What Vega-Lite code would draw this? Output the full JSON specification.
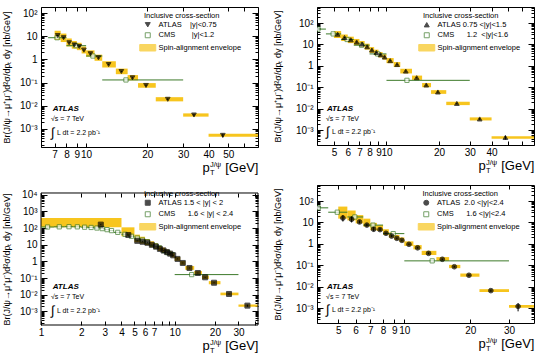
{
"$schema": "https://vega.github.io/schema/vega-lite/v6.json",
"background": "white",
"padding": {"left": 1, "top": 6, "right": 5, "bottom": 2},
"autosize": {"type": "pad"},
"config": {
  "font": "Liberation Sans",
  "view": {"stroke": "black", "strokeWidth": 1},
  "axis": {"domain": false, "grid": false, "tickColor": "black", "tickWidth": 1, "labelColor": "black", "titleColor": "black", "labelFont": "Liberation Sans", "titleFont": "Liberation Sans", "titleFontWeight": "normal"},
  "legend": {"titleFontSize": 7.5, "titleFontWeight": "normal", "titleColor": "black", "labelColor": "black", "labelFontSize": 7.5, "symbolSize": 25, "symbolStrokeWidth": 1, "padding": 0, "rowPadding": 1.5, "titlePadding": 2, "labelOffset": 7, "titleLimit": 0, "labelLimit": 0}
},
"datasets": {
  "p1a": [
    {"lo":7,"hi":7.5,"x":7.25,"y":10.7,"slo":10.1,"shi":11.3,"elo":6.8,"ehi":17},
    {"lo":7.5,"hi":8,"x":7.75,"y":8.6,"slo":8.1,"shi":9.1,"elo":5.6,"ehi":13},
    {"lo":8,"hi":8.5,"x":8.25,"y":5.2,"slo":4.9,"shi":5.5,"elo":3.6,"ehi":8},
    {"lo":8.5,"hi":9,"x":8.75,"y":4.2,"slo":4.0,"shi":4.4,"elo":2.9,"ehi":6.2},
    {"lo":9,"hi":9.5,"x":9.25,"y":3.6,"slo":3.4,"shi":3.8,"elo":2.5,"ehi":5.2},
    {"lo":9.5,"hi":10,"x":9.75,"y":2.5,"slo":2.37,"shi":2.63,"elo":1.8,"ehi":3.6},
    {"lo":10,"hi":11,"x":10.5,"y":1.75,"slo":1.67,"shi":1.83,"elo":1.3,"ehi":2.45},
    {"lo":11,"hi":12,"x":11.5,"y":1.17,"slo":1.11,"shi":1.23,"elo":0.87,"ehi":1.6},
    {"lo":12,"hi":14,"x":12.9,"y":0.6,"slo":0.57,"shi":0.63,"elo":0.45,"ehi":0.83},
    {"lo":14,"hi":16,"x":14.9,"y":0.3,"slo":0.285,"shi":0.315,"elo":0.23,"ehi":0.4},
    {"lo":16,"hi":18,"x":16.9,"y":0.16,"slo":0.151,"shi":0.169,"elo":0.125,"ehi":0.21},
    {"lo":18,"hi":22,"x":19.7,"y":0.075,"slo":0.07,"shi":0.08,"elo":0.06,"ehi":0.095},
    {"lo":22,"hi":30,"x":25.2,"y":0.019,"slo":0.0175,"shi":0.0205,"elo":0.0155,"ehi":0.0235},
    {"lo":30,"hi":40,"x":33.9,"y":0.004,"slo":0.0036,"shi":0.0044,"elo":0.0034,"ehi":0.0047},
    {"lo":40,"hi":70,"x":47,"y":0.00053,"slo":0.00044,"shi":0.00062,"elo":0.00046,"ehi":0.00062}
  ],
  "p1c": [
    {"lo":6.5,"hi":8,"x":7.2,"y":8.6},
    {"lo":8,"hi":10,"x":8.9,"y":3.9},
    {"lo":10,"hi":12,"x":10.8,"y":1.4},
    {"lo":12,"hi":30,"x":15.7,"y":0.13}
  ],
  "p2a": [
    {"lo":5,"hi":5.5,"x":5.25,"y":30,"slo":28.5,"shi":31.5,"elo":20,"ehi":42},
    {"lo":5.5,"hi":6,"x":5.75,"y":21,"slo":20,"shi":22,"elo":14.5,"ehi":29},
    {"lo":6,"hi":6.5,"x":6.25,"y":16.5,"slo":15.7,"shi":17.3,"elo":11.5,"ehi":23},
    {"lo":6.5,"hi":7,"x":6.75,"y":13,"slo":12.3,"shi":13.7,"elo":9.2,"ehi":18},
    {"lo":7,"hi":7.5,"x":7.25,"y":10.5,"slo":10,"shi":11,"elo":7.5,"ehi":14.5},
    {"lo":7.5,"hi":8,"x":7.75,"y":7.8,"slo":7.4,"shi":8.2,"elo":5.7,"ehi":10.8},
    {"lo":8,"hi":8.5,"x":8.25,"y":5.5,"slo":5.2,"shi":5.8,"elo":4.0,"ehi":7.5},
    {"lo":8.5,"hi":9,"x":8.75,"y":4.2,"slo":4.0,"shi":4.4,"elo":3.1,"ehi":5.7},
    {"lo":9,"hi":9.5,"x":9.25,"y":3.3,"slo":3.1,"shi":3.5,"elo":2.45,"ehi":4.4},
    {"lo":9.5,"hi":10,"x":9.75,"y":2.6,"slo":2.47,"shi":2.73,"elo":1.95,"ehi":3.45},
    {"lo":10,"hi":11,"x":10.5,"y":1.75,"slo":1.66,"shi":1.84,"elo":1.33,"ehi":2.3},
    {"lo":11,"hi":12,"x":11.5,"y":1.15,"slo":1.09,"shi":1.21,"elo":0.88,"ehi":1.5},
    {"lo":12,"hi":14,"x":12.9,"y":0.57,"slo":0.54,"shi":0.6,"elo":0.44,"ehi":0.73},
    {"lo":14,"hi":16,"x":14.9,"y":0.28,"slo":0.266,"shi":0.294,"elo":0.22,"ehi":0.35},
    {"lo":16,"hi":18,"x":16.9,"y":0.127,"slo":0.12,"shi":0.134,"elo":0.1,"ehi":0.157},
    {"lo":18,"hi":22,"x":19.7,"y":0.06,"slo":0.056,"shi":0.064,"elo":0.049,"ehi":0.073},
    {"lo":22,"hi":30,"x":25.3,"y":0.0175,"slo":0.0163,"shi":0.0187,"elo":0.0146,"ehi":0.021},
    {"lo":30,"hi":40,"x":34.2,"y":0.0033,"slo":0.003,"shi":0.0036,"elo":0.0028,"ehi":0.0039},
    {"lo":40,"hi":70,"x":48,"y":0.00045,"slo":0.00036,"shi":0.00054,"elo":0.00039,"ehi":0.00051}
  ],
  "p2c": [
    {"lo":3.5,"hi":4.5,"x":4.05,"y":52},
    {"lo":4.5,"hi":5.5,"x":4.95,"y":31},
    {"lo":5.5,"hi":6.5,"x":5.95,"y":17},
    {"lo":6.5,"hi":8,"x":7.2,"y":9.2},
    {"lo":8,"hi":10,"x":8.9,"y":3.6},
    {"lo":10,"hi":30,"x":13.1,"y":0.21}
  ],
  "p3a": [
    {"lo":1,"hi":4,"x":2.8,"y":160,"slo":150,"shi":170,"elo":110,"ehi":400},
    {"lo":4,"hi":5,"x":4.5,"y":38,"slo":36,"shi":40,"elo":32,"ehi":110},
    {"lo":5,"hi":5.5,"x":5.25,"y":17,"slo":16,"shi":18,"elo":14,"ehi":40},
    {"lo":5.5,"hi":6,"x":5.75,"y":15,"slo":14.2,"shi":15.8,"elo":11.5,"ehi":30},
    {"lo":6,"hi":6.5,"x":6.25,"y":13,"slo":12.3,"shi":13.7,"elo":9.5,"ehi":22},
    {"lo":6.5,"hi":7,"x":6.75,"y":9.8,"slo":9.3,"shi":10.3,"elo":7.2,"ehi":16},
    {"lo":7,"hi":7.5,"x":7.25,"y":7.6,"slo":7.2,"shi":8,"elo":5.6,"ehi":12},
    {"lo":7.5,"hi":8,"x":7.75,"y":5.6,"slo":5.3,"shi":5.9,"elo":4.2,"ehi":8.5},
    {"lo":8,"hi":8.5,"x":8.25,"y":4.5,"slo":4.3,"shi":4.7,"elo":3.4,"ehi":6.6},
    {"lo":8.5,"hi":9,"x":8.75,"y":3.6,"slo":3.4,"shi":3.8,"elo":2.7,"ehi":5.1},
    {"lo":9,"hi":9.5,"x":9.25,"y":2.9,"slo":2.75,"shi":3.05,"elo":2.2,"ehi":4.0},
    {"lo":9.5,"hi":10,"x":9.75,"y":2.3,"slo":2.18,"shi":2.42,"elo":1.75,"ehi":3.1},
    {"lo":10,"hi":11,"x":10.5,"y":1.4,"slo":1.33,"shi":1.47,"elo":1.08,"ehi":1.85},
    {"lo":11,"hi":12,"x":11.5,"y":0.8,"slo":0.76,"shi":0.84,"elo":0.62,"ehi":1.04},
    {"lo":12,"hi":14,"x":12.9,"y":0.4,"slo":0.38,"shi":0.42,"elo":0.31,"ehi":0.52},
    {"lo":14,"hi":16,"x":14.9,"y":0.2,"slo":0.19,"shi":0.21,"elo":0.16,"ehi":0.26},
    {"lo":16,"hi":18,"x":16.9,"y":0.11,"slo":0.104,"shi":0.116,"elo":0.088,"ehi":0.14},
    {"lo":18,"hi":22,"x":19.7,"y":0.052,"slo":0.049,"shi":0.055,"elo":0.042,"ehi":0.065},
    {"lo":22,"hi":30,"x":25.5,"y":0.011,"slo":0.0103,"shi":0.0117,"elo":0.0092,"ehi":0.0133},
    {"lo":30,"hi":70,"x":35,"y":0.0022,"slo":0.0019,"shi":0.0025,"elo":0.0019,"ehi":0.0026}
  ],
  "p3c": [
    {"lo":1.0,"hi":1.25,"x":1.12,"y":115},
    {"lo":1.25,"hi":1.5,"x":1.37,"y":118},
    {"lo":1.5,"hi":1.75,"x":1.62,"y":120},
    {"lo":1.75,"hi":2.0,"x":1.87,"y":118},
    {"lo":2.0,"hi":2.25,"x":2.12,"y":112},
    {"lo":2.25,"hi":2.5,"x":2.37,"y":108},
    {"lo":2.5,"hi":2.75,"x":2.62,"y":100},
    {"lo":2.75,"hi":3.0,"x":2.87,"y":92},
    {"lo":3.0,"hi":3.25,"x":3.12,"y":80},
    {"lo":3.25,"hi":3.5,"x":3.37,"y":70},
    {"lo":3.5,"hi":4.0,"x":3.75,"y":55},
    {"lo":4.0,"hi":4.5,"x":4.25,"y":42},
    {"lo":4.5,"hi":5.0,"x":4.75,"y":32},
    {"lo":5.0,"hi":5.5,"x":5.25,"y":25},
    {"lo":5.5,"hi":6.0,"x":5.75,"y":19},
    {"lo":6.0,"hi":6.5,"x":6.25,"y":15},
    {"lo":6.5,"hi":8.0,"x":7.2,"y":8.5},
    {"lo":8.0,"hi":10.0,"x":8.9,"y":3.3},
    {"lo":10,"hi":30,"x":13.4,"y":0.16}
  ],
  "p4a": [
    {"lo":5,"hi":5.5,"x":5.25,"y":16,"slo":11,"shi":22,"elo":15,"ehi":55},
    {"lo":5.5,"hi":6,"x":5.75,"y":14,"slo":10,"shi":19,"elo":12.4,"ehi":36},
    {"lo":6,"hi":6.5,"x":6.25,"y":10.5,"slo":9,"shi":12.3,"elo":9,"ehi":22},
    {"lo":6.5,"hi":7,"x":6.75,"y":7.5,"slo":6.5,"shi":8.7,"elo":6.4,"ehi":15},
    {"lo":7,"hi":7.5,"x":7.25,"y":4.8,"slo":3.8,"shi":6,"elo":4.3,"ehi":9.5},
    {"lo":7.5,"hi":8,"x":7.75,"y":4.6,"slo":3.9,"shi":5.4,"elo":4.0,"ehi":7.5},
    {"lo":8,"hi":8.5,"x":8.25,"y":3.1,"slo":2.8,"shi":3.4,"elo":2.6,"ehi":4.8},
    {"lo":8.5,"hi":9,"x":8.75,"y":2.3,"slo":2.1,"shi":2.5,"elo":1.95,"ehi":3.4},
    {"lo":9,"hi":9.5,"x":9.25,"y":1.8,"slo":1.65,"shi":1.95,"elo":1.5,"ehi":2.6},
    {"lo":9.5,"hi":10,"x":9.75,"y":1.45,"slo":1.33,"shi":1.57,"elo":1.2,"ehi":2.0},
    {"lo":10,"hi":11,"x":10.5,"y":0.95,"slo":0.88,"shi":1.02,"elo":0.8,"ehi":1.3},
    {"lo":11,"hi":12,"x":11.5,"y":0.65,"slo":0.6,"shi":0.7,"elo":0.55,"ehi":0.87},
    {"lo":12,"hi":14,"x":12.9,"y":0.36,"slo":0.33,"shi":0.39,"elo":0.3,"ehi":0.47},
    {"lo":14,"hi":16,"x":14.9,"y":0.19,"slo":0.175,"shi":0.205,"elo":0.16,"ehi":0.24},
    {"lo":16,"hi":18,"x":16.9,"y":0.085,"slo":0.078,"shi":0.092,"elo":0.073,"ehi":0.104},
    {"lo":18,"hi":22,"x":19.7,"y":0.034,"slo":0.031,"shi":0.037,"elo":0.029,"ehi":0.041},
    {"lo":22,"hi":30,"x":24.8,"y":0.0065,"slo":0.0058,"shi":0.0072,"elo":0.0056,"ehi":0.0076},
    {"lo":30,"hi":70,"x":33,"y":0.0012,"slo":0.0007,"shi":0.0017,"elo":0.00103,"ehi":0.0014}
  ],
  "p4c": [
    {"lo":3.5,"hi":4.5,"x":4.05,"y":48},
    {"lo":4.5,"hi":5.5,"x":4.95,"y":30},
    {"lo":5.5,"hi":6.5,"x":5.95,"y":18},
    {"lo":6.5,"hi":8,"x":7.2,"y":7.5},
    {"lo":8,"hi":10,"x":8.9,"y":3.0},
    {"lo":10,"hi":30,"x":13.4,"y":0.16}
  ]
},
"columns": 2,
"spacing": {"row": 38, "column": 59},
"bounds": "flush",
"resolve": {"scale": {"shape": "independent", "fill": "independent", "stroke": "independent"}, "legend": {"shape": "independent", "fill": "independent", "stroke": "independent"}},
"concat": [
{
  "width": 217, "height": 140,
  "resolve": {"axis": {"x": "independent", "y": "independent"}},
  "layer": [
    {"data": {"name": "p1a"}, "mark": {"type": "rect", "clip": true},
     "encoding": {
       "x": {"field": "lo", "type": "quantitative", "scale": {"type": "log", "domain": [6, 70], "nice": false},
             "axis": {"orient": "bottom", "values": [7,8,9,10,20,30,40,50], "ticks": false, "tickSize": 0, "labelExpr": "'' + datum.value", "labelPadding": 2, "labelFontSize": 10, "labelOverlap": false, "labelFlush": false, "labelBound": false, "title": "[GeV]", "titleX": 217, "titleY": 24, "titleAlign": "right", "titleBaseline": "alphabetic", "titleFontSize": 13}},
       "x2": {"field": "hi"},
       "y": {"field": "elo", "type": "quantitative", "scale": {"type": "log", "domain": [0.000167, 181.5], "nice": false},
             "axis": {"orient": "left", "values": [0.001,0.01,0.1,1,10,100], "ticks": false, "tickSize": 0, "labelExpr": "['10⁻⁴','10⁻³','10⁻²','10⁻¹','1\u2002','10\u2002','10²','10³','10⁴'][round(log(datum.value)/LN10)+4]", "labelPadding": 4, "labelFontSize": 10, "labelOverlap": false, "labelFlush": false, "labelBound": false, "title": "Br(J/ψ→μ⁺μ⁻)d²σ/dpₜ dy [nb/GeV]", "titleX": -30, "titleY": 70, "titleAngle": -90, "titleAlign": "center", "titleBaseline": "bottom", "titleFontSize": 9}},
       "y2": {"field": "ehi"},
       "fill": {"datum": "Spin-alignment envelope", "type": "nominal",
                "scale": {"domain": ["ATLAS\u00a0\u00a0\u00a0\u00a0|y|<0.75", "CMS\u00a0\u00a0\u00a0\u00a0\u00a0\u00a0\u00a0\u00a0|y|<1.2", "Spin-alignment envelope"], "range": ["black", "white", "#f7c51e"]},
                "legend": {"title": "Inclusive cross-section", "orient": "none", "legendX": 103, "legendY": 4.5}}
     }},
    {"data": {"name": "p1c"}, "mark": {"type": "rule", "clip": true, "color": "#3d7a2a", "strokeWidth": 1},
     "encoding": {
       "x": {"field": "lo", "type": "quantitative", "axis": {"orient": "top", "values": [6,7,8,9,10,20,30,40,50,60,70], "labels": false, "ticks": true, "tickSize": -4, "title": "p", "titleX": 161, "titleY": 164, "titleAlign": "left", "titleBaseline": "alphabetic", "titleFontSize": 13}},
       "x2": {"field": "hi"},
       "y": {"field": "y", "type": "quantitative", "axis": {"orient": "right", "values": [0.0002,0.0003,0.0004,0.0005,0.0006,0.0007,0.0008,0.0009,0.002,0.003,0.004,0.005,0.006,0.007,0.008,0.009,0.02,0.03,0.04,0.05,0.06,0.07,0.08,0.09,0.2,0.3,0.4,0.5,0.6,0.7,0.8,0.9,2,3,4,5,6,7,8,9,20,30,40,50,60,70,80,90], "labels": false, "ticks": true, "tickSize": -3, "title": null}}
     }},
    {"data": {"name": "p1c"}, "mark": {"type": "point", "clip": true, "filled": true, "size": 18, "strokeWidth": 1},
     "encoding": {
       "x": {"field": "x", "type": "quantitative", "axis": {"orient": "bottom", "values": [6,7,8,9,10,20,30,40,50,60,70], "labels": false, "ticks": true, "tickSize": -4, "title": "T", "titleX": 168.5, "titleY": 27.5, "titleAlign": "left", "titleBaseline": "alphabetic", "titleFontSize": 7.5}},
       "y": {"field": "y", "type": "quantitative", "axis": {"orient": "left", "values": [0.0002,0.0003,0.0004,0.0005,0.0006,0.0007,0.0008,0.0009,0.002,0.003,0.004,0.005,0.006,0.007,0.008,0.009,0.02,0.03,0.04,0.05,0.06,0.07,0.08,0.09,0.2,0.3,0.4,0.5,0.6,0.7,0.8,0.9,2,3,4,5,6,7,8,9,20,30,40,50,60,70,80,90], "labels": false, "ticks": true, "tickSize": -3, "title": null}},
       "shape": {"datum": "CMS\u00a0\u00a0\u00a0\u00a0\u00a0\u00a0\u00a0\u00a0|y|<1.2", "type": "nominal", "scale": {"domain": ["ATLAS\u00a0\u00a0\u00a0\u00a0|y|<0.75", "CMS\u00a0\u00a0\u00a0\u00a0\u00a0\u00a0\u00a0\u00a0|y|<1.2", "Spin-alignment envelope"], "range": ["triangle-down", "square", "M-3.2,-1.3H3.2V1.3H-3.2Z"]}},
       "fill": {"datum": "CMS\u00a0\u00a0\u00a0\u00a0\u00a0\u00a0\u00a0\u00a0|y|<1.2", "type": "nominal"},
       "stroke": {"datum": "CMS\u00a0\u00a0\u00a0\u00a0\u00a0\u00a0\u00a0\u00a0|y|<1.2", "type": "nominal", "scale": {"domain": ["ATLAS\u00a0\u00a0\u00a0\u00a0|y|<0.75", "CMS\u00a0\u00a0\u00a0\u00a0\u00a0\u00a0\u00a0\u00a0|y|<1.2", "Spin-alignment envelope"], "range": ["black", "#3d7a2a", "#f7c51e"]}}
     }},
    {"data": {"name": "p1a"}, "mark": {"type": "rule", "clip": true, "color": "black"},
     "encoding": {
       "x": {"field": "x", "type": "quantitative", "axis": {"orient": "bottom", "ticks": false, "labels": false, "title": "J/ψ", "titleX": 168.5, "titleY": 19.5, "titleAlign": "left", "titleBaseline": "alphabetic", "titleFontSize": 7.5}},
       "y": {"field": "slo", "type": "quantitative", "axis": {"orient": "right", "values": [0.001,0.01,0.1,1,10,100], "labels": false, "ticks": true, "tickSize": -6, "title": null}},
       "y2": {"field": "shi"}
     }},
    {"data": {"name": "p1a"}, "mark": {"type": "point", "clip": true, "filled": true, "size": 22, "strokeWidth": 1},
     "encoding": {
       "x": {"field": "x", "type": "quantitative", "axis": null},
       "y": {"field": "y", "type": "quantitative", "axis": {"orient": "left", "values": [0.001,0.01,0.1,1,10,100], "labels": false, "ticks": true, "tickSize": -6, "title": null}},
       "shape": {"datum": "ATLAS\u00a0\u00a0\u00a0\u00a0|y|<0.75", "type": "nominal"},
       "fill": {"datum": "ATLAS\u00a0\u00a0\u00a0\u00a0|y|<0.75", "type": "nominal"},
       "stroke": {"datum": "ATLAS\u00a0\u00a0\u00a0\u00a0|y|<0.75", "type": "nominal"}
     }},
    {"data": {"values": [{}]}, "mark": {"type": "text", "text": "ATLAS", "fontSize": 8, "fontStyle": "italic", "fontWeight": "bold", "align": "left", "baseline": "middle"},
     "encoding": {"x": {"datum": 6.85, "type": "quantitative", "axis": null}, "y": {"datum": 0.00706, "type": "quantitative", "axis": null}}},
    {"data": {"values": [{}]}, "mark": {"type": "text", "text": "√s = 7 TeV", "fontSize": 7, "align": "left", "baseline": "middle"},
     "encoding": {"x": {"datum": 6.71, "type": "quantitative", "axis": null}, "y": {"datum": 0.0026, "type": "quantitative", "axis": null}}},
    {"data": {"values": [{}]}, "mark": {"type": "text", "text": "∫", "fontSize": 13, "align": "left", "baseline": "middle"},
     "encoding": {"x": {"datum": 6.71, "type": "quantitative", "axis": null}, "y": {"datum": 0.00069, "type": "quantitative", "axis": null}}},
    {"data": {"values": [{}]}, "mark": {"type": "text", "text": "L dt = 2.2 pb⁻¹", "fontSize": 7, "align": "left", "baseline": "middle"},
     "encoding": {"x": {"datum": 7.19, "type": "quantitative", "axis": null}, "y": {"datum": 0.00069, "type": "quantitative", "axis": null}}}
  ]
},
{
  "width": 217, "height": 138,
  "resolve": {"axis": {"x": "independent", "y": "independent"}},
  "layer": [
    {"data": {"name": "p2a"}, "mark": {"type": "rect", "clip": true},
     "encoding": {
       "x": {"field": "lo", "type": "quantitative", "scale": {"type": "log", "domain": [4, 70], "nice": false},
             "axis": {"orient": "bottom", "values": [5,6,7,8,9,10,20,30,40], "ticks": false, "tickSize": 0, "labelExpr": "'' + datum.value", "labelPadding": 2, "labelFontSize": 10, "labelOverlap": false, "labelFlush": false, "labelBound": false, "title": "[GeV]", "titleX": 217, "titleY": 24, "titleAlign": "right", "titleBaseline": "alphabetic", "titleFontSize": 13}},
       "x2": {"field": "hi"},
       "y": {"field": "elo", "type": "quantitative", "scale": {"type": "log", "domain": [0.0002, 560], "nice": false},
             "axis": {"orient": "left", "values": [0.001,0.01,0.1,1,10,100], "ticks": false, "tickSize": 0, "labelExpr": "['10⁻⁴','10⁻³','10⁻²','10⁻¹','1\u2002','10\u2002','10²','10³','10⁴'][round(log(datum.value)/LN10)+4]", "labelPadding": 4, "labelFontSize": 10, "labelOverlap": false, "labelFlush": false, "labelBound": false, "title": "Br(J/ψ→μ⁺μ⁻)d²σ/dpₜ dy [nb/GeV]", "titleX": -35, "titleY": 69, "titleAngle": -90, "titleAlign": "center", "titleBaseline": "bottom", "titleFontSize": 9}},
       "y2": {"field": "ehi"},
       "fill": {"datum": "Spin-alignment envelope", "type": "nominal",
                "scale": {"domain": ["ATLAS 0.75\u00a0<|y|<1.5", "CMS\u00a0\u00a0\u00a0\u00a0\u00a0\u00a01.2\u00a0\u00a0<|y|<1.6", "Spin-alignment envelope"], "range": ["black", "white", "#f7c51e"]},
                "legend": {"title": "Inclusive cross-section", "orient": "none", "legendX": 106, "legendY": 4.5}}
     }},
    {"data": {"name": "p2c"}, "mark": {"type": "rule", "clip": true, "color": "#3d7a2a", "strokeWidth": 1},
     "encoding": {
       "x": {"field": "lo", "type": "quantitative", "axis": {"orient": "top", "values": [4,5,6,7,8,9,10,20,30,40,50,60,70], "labels": false, "ticks": true, "tickSize": -4, "title": "p", "titleX": 161, "titleY": 162, "titleAlign": "left", "titleBaseline": "alphabetic", "titleFontSize": 13}},
       "x2": {"field": "hi"},
       "y": {"field": "y", "type": "quantitative", "axis": {"orient": "right", "values": [0.0003,0.0004,0.0005,0.0006,0.0007,0.0008,0.0009,0.002,0.003,0.004,0.005,0.006,0.007,0.008,0.009,0.02,0.03,0.04,0.05,0.06,0.07,0.08,0.09,0.2,0.3,0.4,0.5,0.6,0.7,0.8,0.9,2,3,4,5,6,7,8,9,20,30,40,50,60,70,80,90,200,300,400,500], "labels": false, "ticks": true, "tickSize": -3, "title": null}}
     }},
    {"data": {"name": "p2c"}, "mark": {"type": "point", "clip": true, "filled": true, "size": 18, "strokeWidth": 1},
     "encoding": {
       "x": {"field": "x", "type": "quantitative", "axis": {"orient": "bottom", "values": [4,5,6,7,8,9,10,20,30,40,50,60,70], "labels": false, "ticks": true, "tickSize": -4, "title": "T", "titleX": 168.5, "titleY": 27.5, "titleAlign": "left", "titleBaseline": "alphabetic", "titleFontSize": 7.5}},
       "y": {"field": "y", "type": "quantitative", "axis": {"orient": "left", "values": [0.0003,0.0004,0.0005,0.0006,0.0007,0.0008,0.0009,0.002,0.003,0.004,0.005,0.006,0.007,0.008,0.009,0.02,0.03,0.04,0.05,0.06,0.07,0.08,0.09,0.2,0.3,0.4,0.5,0.6,0.7,0.8,0.9,2,3,4,5,6,7,8,9,20,30,40,50,60,70,80,90,200,300,400,500], "labels": false, "ticks": true, "tickSize": -3, "title": null}},
       "shape": {"datum": "CMS\u00a0\u00a0\u00a0\u00a0\u00a0\u00a01.2\u00a0\u00a0<|y|<1.6", "type": "nominal", "scale": {"domain": ["ATLAS 0.75\u00a0<|y|<1.5", "CMS\u00a0\u00a0\u00a0\u00a0\u00a0\u00a01.2\u00a0\u00a0<|y|<1.6", "Spin-alignment envelope"], "range": ["triangle-up", "square", "M-3.2,-1.3H3.2V1.3H-3.2Z"]}},
       "fill": {"datum": "CMS\u00a0\u00a0\u00a0\u00a0\u00a0\u00a01.2\u00a0\u00a0<|y|<1.6", "type": "nominal"},
       "stroke": {"datum": "CMS\u00a0\u00a0\u00a0\u00a0\u00a0\u00a01.2\u00a0\u00a0<|y|<1.6", "type": "nominal", "scale": {"domain": ["ATLAS 0.75\u00a0<|y|<1.5", "CMS\u00a0\u00a0\u00a0\u00a0\u00a0\u00a01.2\u00a0\u00a0<|y|<1.6", "Spin-alignment envelope"], "range": ["black", "#3d7a2a", "#f7c51e"]}}
     }},
    {"data": {"name": "p2a"}, "mark": {"type": "rule", "clip": true, "color": "black"},
     "encoding": {
       "x": {"field": "x", "type": "quantitative", "axis": {"orient": "bottom", "ticks": false, "labels": false, "title": "J/ψ", "titleX": 168.5, "titleY": 19.5, "titleAlign": "left", "titleBaseline": "alphabetic", "titleFontSize": 7.5}},
       "y": {"field": "slo", "type": "quantitative", "axis": {"orient": "right", "values": [0.001,0.01,0.1,1,10,100], "labels": false, "ticks": true, "tickSize": -6, "title": null}},
       "y2": {"field": "shi"}
     }},
    {"data": {"name": "p2a"}, "mark": {"type": "point", "clip": true, "filled": true, "size": 22, "strokeWidth": 1},
     "encoding": {
       "x": {"field": "x", "type": "quantitative", "axis": null},
       "y": {"field": "y", "type": "quantitative", "axis": {"orient": "left", "values": [0.001,0.01,0.1,1,10,100], "labels": false, "ticks": true, "tickSize": -6, "title": null}},
       "shape": {"datum": "ATLAS 0.75\u00a0<|y|<1.5", "type": "nominal"},
       "fill": {"datum": "ATLAS 0.75\u00a0<|y|<1.5", "type": "nominal"},
       "stroke": {"datum": "ATLAS 0.75\u00a0<|y|<1.5", "type": "nominal"}
     }},
    {"data": {"values": [{}]}, "mark": {"type": "text", "text": "ATLAS", "fontSize": 8, "fontStyle": "italic", "fontWeight": "bold", "align": "left", "baseline": "middle"},
     "encoding": {"x": {"datum": 4.56, "type": "quantitative", "axis": null}, "y": {"datum": 0.0093, "type": "quantitative", "axis": null}}},
    {"data": {"values": [{}]}, "mark": {"type": "text", "text": "√s = 7 TeV", "fontSize": 7, "align": "left", "baseline": "middle"},
     "encoding": {"x": {"datum": 4.5, "type": "quantitative", "axis": null}, "y": {"datum": 0.0032, "type": "quantitative", "axis": null}}},
    {"data": {"values": [{}]}, "mark": {"type": "text", "text": "∫", "fontSize": 13, "align": "left", "baseline": "middle"},
     "encoding": {"x": {"datum": 4.5, "type": "quantitative", "axis": null}, "y": {"datum": 0.00083, "type": "quantitative", "axis": null}}},
    {"data": {"values": [{}]}, "mark": {"type": "text", "text": "L dt = 2.2 pb⁻¹", "fontSize": 7, "align": "left", "baseline": "middle"},
     "encoding": {"x": {"datum": 4.88, "type": "quantitative", "axis": null}, "y": {"datum": 0.00083, "type": "quantitative", "axis": null}}}
  ]
},
{
  "width": 217, "height": 140,
  "view": {"stroke": null},
  "resolve": {"axis": {"x": "independent", "y": "independent"}},
  "layer": [
    {"data": {"name": "p3a"}, "mark": {"type": "rect", "clip": true},
     "encoding": {
       "x": {"field": "lo", "type": "quantitative", "scale": {"type": "log", "domain": [1, 42], "nice": false},
             "axis": {"orient": "bottom", "values": [1,2,3,4,5,6,7,10,20,30], "ticks": false, "tickSize": 0, "labelExpr": "'' + datum.value", "labelPadding": 2, "labelFontSize": 10, "labelOverlap": false, "labelFlush": false, "labelBound": false, "title": "[GeV]", "titleX": 217, "titleY": 24, "titleAlign": "right", "titleBaseline": "alphabetic", "titleFontSize": 13}},
       "x2": {"field": "hi"},
       "y": {"field": "elo", "type": "quantitative", "scale": {"type": "log", "domain": [0.000151, 38200], "nice": false},
             "axis": {"orient": "left", "values": [0.001,0.01,0.1,1,10,100,1000,10000], "ticks": false, "tickSize": 0, "labelExpr": "['10⁻⁴','10⁻³','10⁻²','10⁻¹','1\u2002','10\u2002','10²','10³','10⁴'][round(log(datum.value)/LN10)+4]", "labelPadding": 4, "labelFontSize": 10, "labelOverlap": false, "labelFlush": false, "labelBound": false, "title": "Br(J/ψ→μ⁺μ⁻)d²σ/dpₜ dy [nb/GeV]", "titleX": -30, "titleY": 74, "titleAngle": -90, "titleAlign": "center", "titleBaseline": "bottom", "titleFontSize": 9}},
       "y2": {"field": "ehi"},
       "fill": {"datum": "Spin-alignment envelope", "type": "nominal",
                "scale": {"domain": ["ATLAS 1.5 < |y| < 2", "CMS\u00a0\u00a0\u00a0\u00a0\u00a0\u00a01.6 < |y| < 2.4", "Spin-alignment envelope"], "range": ["black", "white", "#f7c51e"]},
                "legend": {"title": "Inclusive cross-section", "orient": "none", "legendX": 103, "legendY": 4.5}}
     }},
    {"data": {"values": [{}]}, "mark": {"type": "rect", "filled": false, "stroke": "black", "strokeWidth": 1},
     "encoding": {"x": {"datum": 1, "type": "quantitative", "axis": null}, "x2": {"datum": 42}, "y": {"datum": 0.000151, "type": "quantitative", "axis": null}, "y2": {"datum": 12660}}},
    {"data": {"name": "p3c"}, "mark": {"type": "rule", "clip": true, "color": "#3d7a2a", "strokeWidth": 1},
     "encoding": {
       "x": {"field": "lo", "type": "quantitative", "axis": {"orient": "top", "offset": -8, "values": [1,2,3,4,5,6,7,8,9,10,20,30,40], "labels": false, "ticks": true, "tickSize": -4, "title": "p", "titleX": 161, "titleY": 156, "titleAlign": "left", "titleBaseline": "alphabetic", "titleFontSize": 13}},
       "x2": {"field": "hi"},
       "y": {"field": "y", "type": "quantitative", "axis": {"orient": "right", "values": [0.0002,0.0003,0.0004,0.0005,0.0006,0.0007,0.0008,0.0009,0.002,0.003,0.004,0.005,0.006,0.007,0.008,0.009,0.02,0.03,0.04,0.05,0.06,0.07,0.08,0.09,0.2,0.3,0.4,0.5,0.6,0.7,0.8,0.9,2,3,4,5,6,7,8,9,20,30,40,50,60,70,80,90,200,300,400,500,600,700,800,900,2000,3000,4000,5000,6000,7000,8000,9000], "labels": false, "ticks": true, "tickSize": -3, "title": null}}
     }},
    {"data": {"name": "p3c"}, "mark": {"type": "point", "clip": true, "filled": true, "size": 18, "strokeWidth": 1},
     "encoding": {
       "x": {"field": "x", "type": "quantitative", "axis": {"orient": "bottom", "values": [1,2,3,4,5,6,7,8,9,10,20,30,40], "labels": false, "ticks": true, "tickSize": -4, "title": "T", "titleX": 168.5, "titleY": 27.5, "titleAlign": "left", "titleBaseline": "alphabetic", "titleFontSize": 7.5}},
       "y": {"field": "y", "type": "quantitative", "axis": {"orient": "left", "values": [0.0002,0.0003,0.0004,0.0005,0.0006,0.0007,0.0008,0.0009,0.002,0.003,0.004,0.005,0.006,0.007,0.008,0.009,0.02,0.03,0.04,0.05,0.06,0.07,0.08,0.09,0.2,0.3,0.4,0.5,0.6,0.7,0.8,0.9,2,3,4,5,6,7,8,9,20,30,40,50,60,70,80,90,200,300,400,500,600,700,800,900,2000,3000,4000,5000,6000,7000,8000,9000], "labels": false, "ticks": true, "tickSize": -3, "title": null}},
       "shape": {"datum": "CMS\u00a0\u00a0\u00a0\u00a0\u00a0\u00a01.6 < |y| < 2.4", "type": "nominal", "scale": {"domain": ["ATLAS 1.5 < |y| < 2", "CMS\u00a0\u00a0\u00a0\u00a0\u00a0\u00a01.6 < |y| < 2.4", "Spin-alignment envelope"], "range": ["square", "square", "M-3.2,-1.3H3.2V1.3H-3.2Z"]}},
       "fill": {"datum": "CMS\u00a0\u00a0\u00a0\u00a0\u00a0\u00a01.6 < |y| < 2.4", "type": "nominal"},
       "stroke": {"datum": "CMS\u00a0\u00a0\u00a0\u00a0\u00a0\u00a01.6 < |y| < 2.4", "type": "nominal", "scale": {"domain": ["ATLAS 1.5 < |y| < 2", "CMS\u00a0\u00a0\u00a0\u00a0\u00a0\u00a01.6 < |y| < 2.4", "Spin-alignment envelope"], "range": ["black", "#3d7a2a", "#f7c51e"]}}
     }},
    {"data": {"name": "p3a"}, "mark": {"type": "rule", "clip": true, "color": "black"},
     "encoding": {
       "x": {"field": "x", "type": "quantitative", "axis": {"orient": "bottom", "ticks": false, "labels": false, "title": "J/ψ", "titleX": 168.5, "titleY": 19.5, "titleAlign": "left", "titleBaseline": "alphabetic", "titleFontSize": 7.5}},
       "y": {"field": "slo", "type": "quantitative", "axis": {"orient": "right", "values": [0.001,0.01,0.1,1,10,100,1000,10000], "labels": false, "ticks": true, "tickSize": -6, "title": null}},
       "y2": {"field": "shi"}
     }},
    {"data": {"name": "p3a"}, "mark": {"type": "point", "clip": true, "filled": true, "size": 25, "strokeWidth": 1},
     "encoding": {
       "x": {"field": "x", "type": "quantitative", "axis": null},
       "y": {"field": "y", "type": "quantitative", "axis": {"orient": "left", "values": [0.001,0.01,0.1,1,10,100,1000,10000], "labels": false, "ticks": true, "tickSize": -6, "title": null}},
       "shape": {"datum": "ATLAS 1.5 < |y| < 2", "type": "nominal"},
       "fill": {"datum": "ATLAS 1.5 < |y| < 2", "type": "nominal"},
       "stroke": {"datum": "ATLAS 1.5 < |y| < 2", "type": "nominal"}
     }},
    {"data": {"values": [{}]}, "mark": {"type": "text", "text": "ATLAS", "fontSize": 8, "fontStyle": "italic", "fontWeight": "bold", "align": "left", "baseline": "middle"},
     "encoding": {"x": {"datum": 1.223, "type": "quantitative", "axis": null}, "y": {"datum": 0.0277, "type": "quantitative", "axis": null}}},
    {"data": {"values": [{}]}, "mark": {"type": "text", "text": "√s = 7 TeV", "fontSize": 7, "align": "left", "baseline": "middle"},
     "encoding": {"x": {"datum": 1.188, "type": "quantitative", "axis": null}, "y": {"datum": 0.00697, "type": "quantitative", "axis": null}}},
    {"data": {"values": [{}]}, "mark": {"type": "text", "text": "∫", "fontSize": 13, "align": "left", "baseline": "middle"},
     "encoding": {"x": {"datum": 1.188, "type": "quantitative", "axis": null}, "y": {"datum": 0.0011, "type": "quantitative", "axis": null}}},
    {"data": {"values": [{}]}, "mark": {"type": "text", "text": "L dt = 2.2 pb⁻¹", "fontSize": 7, "align": "left", "baseline": "middle"},
     "encoding": {"x": {"datum": 1.317, "type": "quantitative", "axis": null}, "y": {"datum": 0.0011, "type": "quantitative", "axis": null}}}
  ]
},
{
  "width": 217, "height": 138,
  "resolve": {"axis": {"x": "independent", "y": "independent"}},
  "layer": [
    {"data": {"name": "p4a"}, "mark": {"type": "rect", "clip": true},
     "encoding": {
       "x": {"field": "lo", "type": "quantitative", "scale": {"type": "log", "domain": [4, 39], "nice": false},
             "axis": {"orient": "bottom", "values": [5,6,7,8,9,10,20,30], "ticks": false, "tickSize": 0, "labelExpr": "'' + datum.value", "labelPadding": 2, "labelFontSize": 10, "labelOverlap": false, "labelFlush": false, "labelBound": false, "title": "[GeV]", "titleX": 217, "titleY": 24, "titleAlign": "right", "titleBaseline": "alphabetic", "titleFontSize": 13}},
       "x2": {"field": "hi"},
       "y": {"field": "elo", "type": "quantitative", "scale": {"type": "log", "domain": [0.0002, 560], "nice": false},
             "axis": {"orient": "left", "values": [0.001,0.01,0.1,1,10,100], "ticks": false, "tickSize": 0, "labelExpr": "['10⁻⁴','10⁻³','10⁻²','10⁻¹','1\u2002','10\u2002','10²','10³','10⁴'][round(log(datum.value)/LN10)+4]", "labelPadding": 4, "labelFontSize": 10, "labelOverlap": false, "labelFlush": false, "labelBound": false, "title": "Br(J/ψ→μ⁺μ⁻)d²σ/dpₜ dy [nb/GeV]", "titleX": -35, "titleY": 69, "titleAngle": -90, "titleAlign": "center", "titleBaseline": "bottom", "titleFontSize": 9}},
       "y2": {"field": "ehi"},
       "fill": {"datum": "Spin-alignment envelope", "type": "nominal",
                "scale": {"domain": ["ATLAS\u00a0\u00a02.0\u00a0<|y|<2.4", "CMS\u00a0\u00a0\u00a0\u00a0\u00a0\u00a01.6\u00a0<|y|<2.4", "Spin-alignment envelope"], "range": ["black", "white", "#f7c51e"]},
                "legend": {"title": "Inclusive cross-section", "orient": "none", "legendX": 105.5, "legendY": 4.5}}
     }},
    {"data": {"name": "p4c"}, "mark": {"type": "rule", "clip": true, "color": "#3d7a2a", "strokeWidth": 1},
     "encoding": {
       "x": {"field": "lo", "type": "quantitative", "axis": {"orient": "top", "values": [4,5,6,7,8,9,10,20,30], "labels": false, "ticks": true, "tickSize": -4, "title": "p", "titleX": 161, "titleY": 162, "titleAlign": "left", "titleBaseline": "alphabetic", "titleFontSize": 13}},
       "x2": {"field": "hi"},
       "y": {"field": "y", "type": "quantitative", "axis": {"orient": "right", "values": [0.0003,0.0004,0.0005,0.0006,0.0007,0.0008,0.0009,0.002,0.003,0.004,0.005,0.006,0.007,0.008,0.009,0.02,0.03,0.04,0.05,0.06,0.07,0.08,0.09,0.2,0.3,0.4,0.5,0.6,0.7,0.8,0.9,2,3,4,5,6,7,8,9,20,30,40,50,60,70,80,90,200,300,400,500], "labels": false, "ticks": true, "tickSize": -3, "title": null}}
     }},
    {"data": {"name": "p4c"}, "mark": {"type": "point", "clip": true, "filled": true, "size": 18, "strokeWidth": 1},
     "encoding": {
       "x": {"field": "x", "type": "quantitative", "axis": {"orient": "bottom", "values": [4,5,6,7,8,9,10,20,30], "labels": false, "ticks": true, "tickSize": -4, "title": "T", "titleX": 168.5, "titleY": 27.5, "titleAlign": "left", "titleBaseline": "alphabetic", "titleFontSize": 7.5}},
       "y": {"field": "y", "type": "quantitative", "axis": {"orient": "left", "values": [0.0003,0.0004,0.0005,0.0006,0.0007,0.0008,0.0009,0.002,0.003,0.004,0.005,0.006,0.007,0.008,0.009,0.02,0.03,0.04,0.05,0.06,0.07,0.08,0.09,0.2,0.3,0.4,0.5,0.6,0.7,0.8,0.9,2,3,4,5,6,7,8,9,20,30,40,50,60,70,80,90,200,300,400,500], "labels": false, "ticks": true, "tickSize": -3, "title": null}},
       "shape": {"datum": "CMS\u00a0\u00a0\u00a0\u00a0\u00a0\u00a01.6\u00a0<|y|<2.4", "type": "nominal", "scale": {"domain": ["ATLAS\u00a0\u00a02.0\u00a0<|y|<2.4", "CMS\u00a0\u00a0\u00a0\u00a0\u00a0\u00a01.6\u00a0<|y|<2.4", "Spin-alignment envelope"], "range": ["circle", "square", "M-3.2,-1.3H3.2V1.3H-3.2Z"]}},
       "fill": {"datum": "CMS\u00a0\u00a0\u00a0\u00a0\u00a0\u00a01.6\u00a0<|y|<2.4", "type": "nominal"},
       "stroke": {"datum": "CMS\u00a0\u00a0\u00a0\u00a0\u00a0\u00a01.6\u00a0<|y|<2.4", "type": "nominal", "scale": {"domain": ["ATLAS\u00a0\u00a02.0\u00a0<|y|<2.4", "CMS\u00a0\u00a0\u00a0\u00a0\u00a0\u00a01.6\u00a0<|y|<2.4", "Spin-alignment envelope"], "range": ["black", "#3d7a2a", "#f7c51e"]}}
     }},
    {"data": {"name": "p4a"}, "mark": {"type": "rule", "clip": true, "color": "black"},
     "encoding": {
       "x": {"field": "x", "type": "quantitative", "axis": {"orient": "bottom", "ticks": false, "labels": false, "title": "J/ψ", "titleX": 168.5, "titleY": 19.5, "titleAlign": "left", "titleBaseline": "alphabetic", "titleFontSize": 7.5}},
       "y": {"field": "slo", "type": "quantitative", "axis": {"orient": "right", "values": [0.001,0.01,0.1,1,10,100], "labels": false, "ticks": true, "tickSize": -6, "title": null}},
       "y2": {"field": "shi"}
     }},
    {"data": {"name": "p4a"}, "mark": {"type": "point", "clip": true, "filled": true, "size": 22, "strokeWidth": 1},
     "encoding": {
       "x": {"field": "x", "type": "quantitative", "axis": null},
       "y": {"field": "y", "type": "quantitative", "axis": {"orient": "left", "values": [0.001,0.01,0.1,1,10,100], "labels": false, "ticks": true, "tickSize": -6, "title": null}},
       "shape": {"datum": "ATLAS\u00a0\u00a02.0\u00a0<|y|<2.4", "type": "nominal"},
       "fill": {"datum": "ATLAS\u00a0\u00a02.0\u00a0<|y|<2.4", "type": "nominal"},
       "stroke": {"datum": "ATLAS\u00a0\u00a02.0\u00a0<|y|<2.4", "type": "nominal"}
     }},
    {"data": {"values": [{}]}, "mark": {"type": "text", "text": "ATLAS", "fontSize": 8, "fontStyle": "italic", "fontWeight": "bold", "align": "left", "baseline": "middle"},
     "encoding": {"x": {"datum": 4.44, "type": "quantitative", "axis": null}, "y": {"datum": 0.0096, "type": "quantitative", "axis": null}}},
    {"data": {"values": [{}]}, "mark": {"type": "text", "text": "√s = 7 TeV", "fontSize": 7, "align": "left", "baseline": "middle"},
     "encoding": {"x": {"datum": 4.4, "type": "quantitative", "axis": null}, "y": {"datum": 0.00327, "type": "quantitative", "axis": null}}},
    {"data": {"values": [{}]}, "mark": {"type": "text", "text": "∫", "fontSize": 13, "align": "left", "baseline": "middle"},
     "encoding": {"x": {"datum": 4.4, "type": "quantitative", "axis": null}, "y": {"datum": 0.00078, "type": "quantitative", "axis": null}}},
    {"data": {"values": [{}]}, "mark": {"type": "text", "text": "L dt = 2.2 pb⁻¹", "fontSize": 7, "align": "left", "baseline": "middle"},
     "encoding": {"x": {"datum": 4.68, "type": "quantitative", "axis": null}, "y": {"datum": 0.00078, "type": "quantitative", "axis": null}}}
  ]
}
]
}
